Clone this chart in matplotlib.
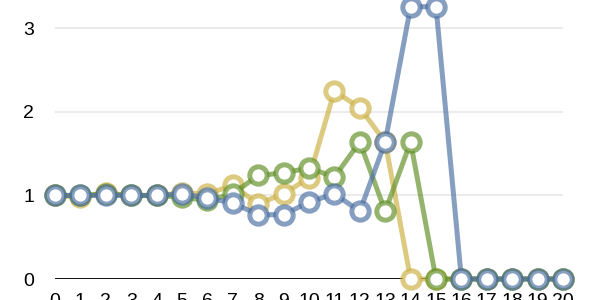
import matplotlib
matplotlib.use("Agg")
import matplotlib.pyplot as plt
from matplotlib.colors import to_rgba

plt.rcParams['font.family'] = ['Liberation Sans', 'DejaVu Sans']

x = list(range(21))
yellow = [1, 0.98, 1.03, 1, 1, 1.03, 1.02, 1.12, 0.9, 1.02, 1.21, 2.25, 2.05, 1.64, 0, 0, 0, 0, 0, 0, 0]
green = [1, 1, 1.02, 1, 1, 0.98, 0.94, 1.02, 1.24, 1.27, 1.33, 1.22, 1.64, 0.81, 1.64, 0, 0, 0, 0, 0, 0]
blue = [1, 1, 1, 1, 1, 1.02, 0.97, 0.91, 0.77, 0.77, 0.92, 1.02, 0.81, 1.64, 3.26, 3.26, 0, 0, 0, 0, 0]

series = [(yellow, '#CDB145'), (green, '#629129'), (blue, '#4D70A2')]

fig = plt.figure(figsize=(6, 3), dpi=100)
ax = fig.add_axes([55 / 600, 21 / 300, 508 / 600, 279 / 300])

for vals, col in series:
    c = to_rgba(col, 0.68)
    ax.plot(x, vals, color=c, lw=3.6, marker='o', ms=12.5, mew=3.6,
            mec=c, mfc='white', clip_on=False, zorder=3)

ax.set_xlim(0, 20)
ax.set_ylim(0, 3.34)
ax.set_yticks([0, 1, 2, 3])
ax.set_xticks(x)
for s in ax.spines.values():
    s.set_visible(False)
ax.grid(axis='y', color='#E8E8E8', lw=1.2)
ax.set_axisbelow(True)
ax.axhline(0, color='black', lw=1.3, zorder=2)
ax.tick_params(axis='both', length=0, labelsize=14)
ax.tick_params(axis='y', pad=15)
ax.tick_params(axis='x', pad=10)

fig.savefig('out.png', dpi=100)
